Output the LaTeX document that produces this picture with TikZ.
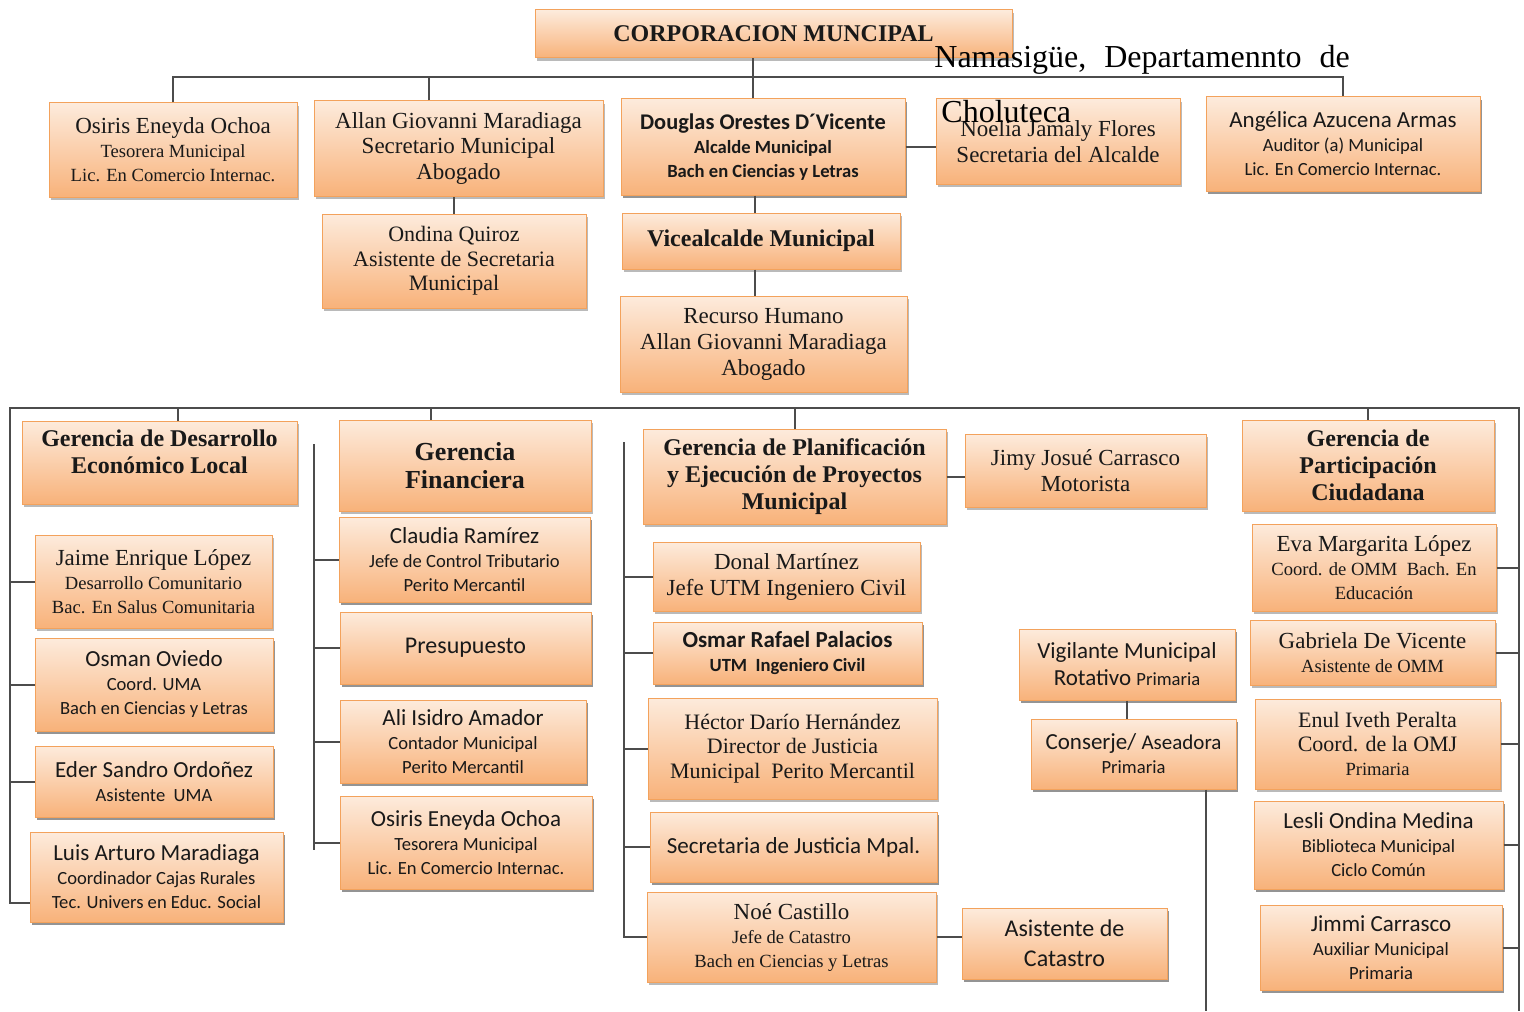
\documentclass[tikz,border=0pt]{standalone}
\usepackage{fontspec}
\setmainfont{Liberation Serif}
\setsansfont{Carlito}
\usetikzlibrary{shadows}
\definecolor{boxtop}{HTML}{FDEBDC}
\definecolor{boxbot}{HTML}{F8B27A}
\definecolor{boxline}{HTML}{F3A25C}
\newcommand\nmsz{\fontsize{11.5}{12}\selectfont}
\newcommand\subsz{\fontsize{9.3}{11}\selectfont}
\newcommand\gersz{\fontsize{12}{13.5}\selectfont\bfseries}
\tikzset{
  orgbox/.style={draw=boxline, line width=0.5pt, top color=boxtop, bottom color=boxbot,
    drop shadow={shadow xshift=0.8pt, shadow yshift=-1.3pt, opacity=0.45, fill=black!60},
    align=center, inner sep=1pt, text=black!90, font=\nmsz},
  sansbox/.style={orgbox, font=\sffamily\nmsz},
  link/.style={draw=black!70, line width=1pt},
}

\begin{document}
\begin{tikzpicture}[x=0.5pt, y=-0.5pt]

  \newcommand\orgunit[7][]{
    \pgfmathsetmacro\bw{(#5-#3)/2}\pgfmathsetmacro\bh{(#6-#4)/2}
    \node[orgbox, #1, minimum width=\bw pt, minimum height=\bh pt] (#2) at ({(#3+#5)/2},{(#4+#6)/2}) {#7};
  }

  \useasboundingbox[fill=white] (0,0) rectangle (1524,1011);

  % top level
  \orgunit[font=\fontsize{12}{14}\selectfont\bfseries]{corp}{535}{10}{1012}{58}{CORPORACION MUNCIPAL}
  \orgunit{osirisA}{49}{103}{297}{197}{Osiris Eneyda Ochoa\\{\subsz Tesorera Municipal}\\{\subsz Lic. En Comercio Internac.}}
  \orgunit[font=\fontsize{11.5}{12.6}\selectfont]{allan}{314}{101}{603}{196}{Allan Giovanni Maradiaga\\Secretario Municipal\\Abogado}
  \orgunit[sansbox, font=\sffamily\bfseries\fontsize{11.2}{12}\selectfont]{douglas}{621}{99}{905}{195}{Douglas Orestes D´Vicente\\{\subsz Alcalde Municipal}\\{\subsz Bach en Ciencias y Letras}}
  \orgunit[font=\fontsize{11.5}{13}\selectfont]{noelia}{936}{99}{1180}{184}{Noelia Jamaly Flores\\Secretaria del Alcalde}
  \orgunit[sansbox]{angelica}{1206}{97}{1480}{191}{Angélica Azucena Armas\\{\subsz Auditor (a) Municipal}\\{\subsz Lic. En Comercio Internac.}}
  \orgunit[font=\fontsize{11}{12.3}\selectfont]{ondina}{322}{214}{586}{308}{Ondina Quiroz\\Asistente de Secretaria\\Municipal}
  \orgunit[font=\gersz]{vice}{622}{213}{900}{269}{Vicealcalde Municipal}
  \orgunit[font=\fontsize{11.5}{13}\selectfont]{rrhh}{620}{296}{907}{392}{Recurso Humano\\Allan Giovanni Maradiaga\\Abogado}

  \coordinate (topbus) at (0,77);
  \draw[link] (osirisA.north) -- (osirisA.north |- topbus) -- (angelica.north |- topbus) -- (angelica.north);
  \draw[link] ([xshift=-15pt]allan.north) -- ([xshift=-15pt]allan.north |- topbus);
  \draw[link] ([xshift=-5pt]douglas.north) -- ([xshift=-5pt]douglas.north |- corp.south);
  \draw[link] (douglas.east) -- (douglas.east -| noelia.west);
  \draw[link] (ondina.north) -- (ondina.north |- allan.south);
  \draw[link] ([xshift=-4pt]douglas.south) -- ([xshift=-4pt]douglas.south |- vice.north);
  \draw[link] ([xshift=-4pt]douglas.south |- vice.south) -- ([xshift=-4pt]douglas.south |- rrhh.north);

  % gerencias
  \orgunit[font=\gersz]{gdel}{22}{421}{297}{504}{Gerencia de Desarrollo\\Económico Local\\[-3pt]}
  \orgunit[font=\fontsize{13}{14}\selectfont\bfseries]{gfin}{339}{420}{591}{511}{Gerencia\\Financiera}
  \orgunit[font=\gersz]{gplan}{643}{429}{946}{524}{Gerencia de Planificación\\y Ejecución de Proyectos\\Municipal}
  \orgunit[font=\fontsize{11.5}{13}\selectfont]{jimy}{965}{434}{1206}{507}{Jimy Josué Carrasco\\Motorista}
  \orgunit[font=\gersz]{gpart}{1242}{420}{1494}{511}{Gerencia de\\Participación\\Ciudadana}

  % desarrollo economico local
  \orgunit{jaime}{35}{535}{272}{628}{Jaime Enrique López\\{\subsz Desarrollo Comunitario}\\{\subsz Bac. En Salus Comunitaria}}
  \orgunit[sansbox]{osman}{35}{638}{273}{731}{Osman Oviedo\\{\subsz Coord. UMA}\\{\subsz Bach en Ciencias y Letras}}
  \orgunit[sansbox]{eder}{35}{746}{273}{817}{Eder Sandro Ordoñez\\{\subsz Asistente\ \ UMA}}
  \orgunit[sansbox]{luis}{30}{832}{283}{922}{Luis Arturo Maradiaga\\{\subsz Coordinador Cajas Rurales}\\{\subsz Tec. Univers en Educ. Social}}

  % financiera
  \orgunit[sansbox]{claudia}{339}{517}{590}{602}{Claudia Ramírez\\{\subsz Jefe de Control Tributario}\\{\subsz Perito Mercantil}}
  \orgunit[sansbox, font=\sffamily\fontsize{12}{14}\selectfont]{presup}{340}{612}{591}{684}{Presupuesto}
  \orgunit[sansbox]{ali}{340}{700}{586}{783}{Ali Isidro Amador\\{\subsz Contador Municipal}\\{\subsz Perito Mercantil}}
  \orgunit[sansbox]{osirisB}{340}{796}{592}{889}{Osiris Eneyda Ochoa\\{\subsz Tesorera Municipal}\\{\subsz Lic. En Comercio Internac.}}

  % planificacion
  \orgunit[font=\fontsize{11.5}{13}\selectfont]{donal}{653}{542}{920}{611}{Donal Martínez\\Jefe UTM Ingeniero Civil}
  \orgunit[sansbox, font=\sffamily\bfseries\nmsz]{osmar}{653}{622}{922}{684}{Osmar Rafael Palacios\\{\subsz UTM\ \ Ingeniero Civil}}
  \orgunit[font=\fontsize{11}{12.2}\selectfont]{hector}{648}{698}{937}{799}{Héctor Darío Hernández\\Director de Justicia\\Municipal\ \ Perito Mercantil}
  \orgunit[sansbox]{secjus}{650}{812}{937}{882}{Secretaria de Justicia Mpal.}
  \orgunit{noe}{647}{892}{936}{982}{Noé Castillo\\{\subsz Jefe de Catastro}\\{\subsz Bach en Ciencias y Letras}}
  \orgunit[sansbox, font=\sffamily\fontsize{12}{15}\selectfont]{asicat}{962}{908}{1167}{979}{Asistente de\\Catastro}
  \orgunit[sansbox, font=\sffamily\fontsize{11.5}{13.5}\selectfont]{vigil}{1019}{629}{1235}{700}{Vigilante Municipal\\Rotativo {\subsz Primaria}}
  \orgunit[sansbox]{conserje}{1031}{719}{1236}{789}{Conserje/ {\fontsize{10.5}{12}\selectfont Aseadora}\\{\subsz Primaria}}

  % participacion ciudadana
  \orgunit{eva}{1252}{524}{1496}{611}{Eva Margarita López\\{\subsz Coord. de OMM\ \ Bach. En}\\{\subsz Educación}}
  \orgunit{gabriela}{1250}{620}{1495}{685}{Gabriela De Vicente\\{\subsz Asistente de OMM}}
  \orgunit[font=\fontsize{11}{12}\selectfont]{enul}{1255}{699}{1500}{789}{Enul Iveth Peralta\\Coord. de la OMJ\\{\subsz Primaria}}
  \orgunit[sansbox]{lesli}{1254}{801}{1503}{889}{Lesli Ondina Medina\\{\subsz Biblioteca Municipal}\\{\subsz Ciclo Común}}
  \orgunit[sansbox]{jimmi}{1260}{905}{1502}{990}{Jimmi Carrasco\\{\subsz Auxiliar Municipal}\\{\subsz Primaria}}

  \coordinate (busL) at (10,408); \coordinate (busR) at (1519,408); \coordinate (endR) at (1519,1011);
  \coordinate (finTop) at (314,444); \coordinate (finBot) at (314,850);
  \coordinate (planTop) at (624,442); \coordinate (consEnd) at (1206,1011);
  \draw[link] ([yshift=-13pt]luis.west) -| (busL) -- (busR) -- (endR);
  \draw[link] ([xshift=9pt]gdel.north) -- ([xshift=9pt]gdel.north |- busL);
  \draw[link] ([xshift=-17pt]gfin.north) -- ([xshift=-17pt]gfin.north |- busL);
  \draw[link] (gplan.north) -- (gplan.north |- busL);
  \draw[link] (gpart.north) -- (gpart.north |- busR);
  \foreach \n in {jaime,osman,eder} {\draw[link] (\n.west) -- (\n.west -| busL);}
  \draw[link] (finTop) -- (finBot);
  \foreach \n in {claudia,presup,ali,osirisB} {\draw[link] (\n.west) -- (\n.west -| finTop);}
  \draw[link] (planTop) |- (noe.west);
  \foreach \n in {donal,osmar,hector,secjus} {\draw[link] (\n.west) -- (\n.west -| planTop);}
  \draw[link] (gplan.east) -- (gplan.east -| jimy.west);
  \draw[link] (noe.east) -- (noe.east -| asicat.west);
  \draw[link] (vigil.south) -- (vigil.south |- conserje.north);
  \draw[link] (conserje.south -| consEnd) -- (consEnd);
  \foreach \n in {eva,gabriela,enul,lesli,jimmi} {\draw[link] (\n.east) -- (\n.east -| busR);}

  % overlaid heading text
  \node[anchor=base west, inner sep=0pt, font=\fontsize{16}{18}\selectfont] (place) at (934,68) {Namasigüe,\hspace{9pt}Departamennto\hspace{9pt}de};
  \node[anchor=base west, inner sep=0pt, font=\fontsize{16}{18}\selectfont] (dept) at (941,122) {Choluteca};

\end{tikzpicture}
\end{document}
